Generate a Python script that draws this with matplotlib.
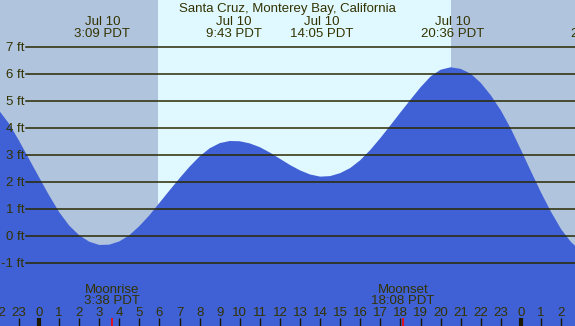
import numpy as np
import matplotlib
matplotlib.use("Agg")
import matplotlib.pyplot as plt
import matplotlib.transforms as mtransforms

plt.rcParams['font.family'] = ['Liberation Sans', 'DejaVu Sans']

hours = np.arange(-2.0, 27.01, 0.5)
heights = [4.67, 4.18, 3.55, 2.87, 2.19, 1.52, 0.90, 0.40, 0.04, -0.20,
           -0.32, -0.31, -0.19, 0.04, 0.38, 0.78, 1.24, 1.70, 2.15, 2.58,
           2.96, 3.26, 3.45, 3.53, 3.52, 3.44, 3.30, 3.10, 2.87, 2.64,
           2.44, 2.29, 2.21, 2.23, 2.34, 2.53, 2.82, 3.20, 3.64, 4.11,
           4.59, 5.06, 5.52, 5.92, 6.17, 6.26, 6.20, 6.02, 5.68, 5.22,
           4.66, 3.98, 3.20, 2.40, 1.62, 0.90, 0.26, -0.22, -0.55]

# экстремумы прилива (последний уходит за край)
extreme_hours = [3.15, 9.717, 14.083, 20.6, 27.9]
extreme_labels = ["Jul 10\n3:09 PDT", "Jul 10\n9:43 PDT",
                  "Jul 10\n14:05 PDT", "Jul 10\n20:36 PDT", "Jul 11\n2:54 PDT"]

sunrise, sunset = 5.92, 20.52
moon_hours = [3.633, 18.133]
moon_labels = ["Moonrise\n3:38 PDT", "Moonset\n18:08 PDT"]

ft_levels = [-1, 0, 1, 2, 3, 4, 5, 6, 7]
tick_hours = list(range(-2, 27))

title = "Santa Cruz, Monterey Bay, California"

text_col = '#333300'
night_col = '#b0c4de'
day_col = '#e0f8ff'
water_col = '#4060d6'

xmin, xmax = -1.942, 26.69
ymin, ymax = -3.322, 8.752

fig = plt.figure(figsize=(5.75, 3.26), dpi=100)
ax = fig.add_axes([0, 0, 1, 1])
ax.set_xlim(xmin, xmax)
ax.set_ylim(ymin, ymax)
ax.axis('off')

# ночь / день
ax.axvspan(xmin, sunrise, color=night_col, lw=0, zorder=0)
ax.axvspan(sunrise, sunset, color=day_col, lw=0, zorder=0)
ax.axvspan(sunset, xmax, color=night_col, lw=0, zorder=0)

# вода
ax.fill_between(hours, heights, ymin, color=water_col, lw=0, zorder=1)

# горизонтальные линии и подписи
tr_y = mtransforms.blended_transform_factory(ax.transAxes, ax.transData)
for lv in ft_levels:
    ax.axhline(lv, xmin=26 / 575, xmax=1, color='#2a2a00', lw=1.1, zorder=2)
    ax.text(24.5 / 575, lv - 0.14, f"{lv} ft", transform=tr_y, ha='right',
            va='baseline', fontsize=9.5, color=text_col, zorder=3)

tr_x = mtransforms.blended_transform_factory(ax.transData, ax.transAxes)

# засечки часов
for h in tick_hours:
    w = 3 if h % 24 == 0 else 1
    ax.plot([h, h], [0, 8 / 326], transform=tr_x, color='#1a1a00', lw=w,
            solid_capstyle='butt', zorder=3)
    ax.text(h, 0.0316, str(h % 24), transform=tr_x, ha='center', va='baseline',
            fontsize=9.5, color=text_col, zorder=3)

# луна
for h, lab in zip(moon_hours, moon_labels):
    ax.plot([h, h], [0, 8 / 326], transform=tr_x, color='red', lw=1.2,
            solid_capstyle='butt', zorder=4)
    l1, l2 = lab.split("\n")
    ax.text(h, 0.1021, l1, transform=tr_x, ha='center', va='baseline',
            fontsize=9.5, color=text_col, zorder=3)
    ax.text(h, 0.0666, l2, transform=tr_x, ha='center', va='baseline',
            fontsize=9.5, color=text_col, zorder=3)

# подписи экстремумов
for h, lab in zip(extreme_hours, extreme_labels):
    l1, l2 = lab.split("\n")
    ax.text(h, 0.9233, l1, transform=tr_x, ha='center', va='baseline',
            fontsize=9.5, color=text_col, zorder=3)
    ax.text(h, 0.8874, l2, transform=tr_x, ha='center', va='baseline',
            fontsize=9.5, color=text_col, zorder=3)

ax.text(0.5, 0.9641, title, transform=ax.transAxes, ha='center', va='baseline',
        fontsize=9.5, color=text_col, zorder=3)

fig.savefig("out.png", dpi=100)
